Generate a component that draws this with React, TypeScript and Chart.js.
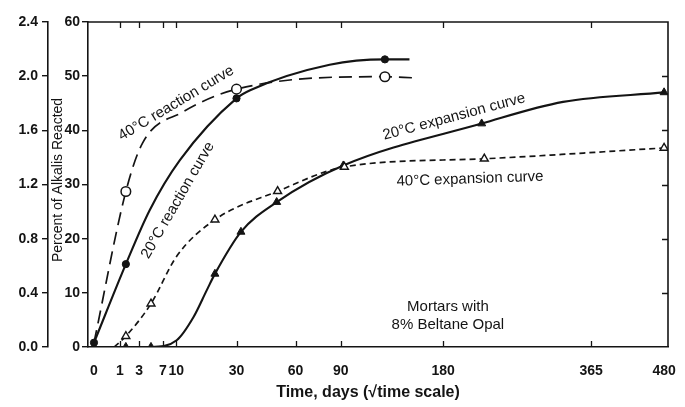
import React, { useEffect, useRef } from 'react';
import { Chart, registerables } from 'chart.js';

Chart.register(...registerables);

// ---------- data ----------
const xTickDays = [0, 1, 3, 7, 10, 30, 60, 90, 180, 365, 480];
const xTickLabels = ['0', '1', '3', '7', '10', '30', '60', '90', '180', '365', '480'];
const innerTickDays = [1, 3, 7, 10, 30, 60, 90, 180, 365];
const reactionTicks = [0, 10, 20, 30, 40, 50, 60];
const expansionTicks = [0, 0.4, 0.8, 1.2, 1.6, 2.0, 2.4];

// 40°C reaction curve (percent of alkalis reacted)
const r40Days = [0, 1.5, 3.5, 11.7, 30, 125, 150];
const r40Pct = [0.8, 28.7, 37.7, 43.4, 47.6, 49.9, 49.7];
const r40Measured = [false, true, false, false, true, true, false];

// 20°C reaction curve (percent of alkalis reacted)
const r20Days = [0, 1.5, 4.6, 10.9, 30, 36, 82, 125, 147];
const r20Pct = [0.8, 15.3, 25.3, 34.5, 45.9, 47.4, 52.1, 53.1, 53.1];
const r20Measured = [true, true, false, false, true, false, false, true, false];

// 40°C expansion curve (expansion, %)
const e40Days = [0.6, 1.5, 4.8, 10.1, 21.6, 49.8, 92.6, 225, 480];
const e40Pct = [0, 0.08, 0.32, 0.67, 0.94, 1.15, 1.33, 1.39, 1.47];
const e40Measured = [false, true, true, false, true, true, true, true, true];

// 20°C expansion curve (expansion, %)
const e20Days = [1.5, 4.8, 10.1, 14.6, 18.8, 21.6, 31.9, 49.3, 91.8, 222, 325, 480];
const e20Pct = [0, 0, 0.05, 0.22, 0.42, 0.54, 0.85, 1.07, 1.34, 1.65, 1.81, 1.88];
const e20Measured = [true, true, false, false, false, true, true, true, true, true, false, true];

const curveLabels = ['40°C reaction curve', '20°C reaction curve', '20°C expansion curve', '40°C expansion curve'];
const noteLines = ['Mortars with', '8% Beltane Opal'];
const yTitle = 'Percent of Alkalis Reacted';
const xTitle = 'Time, days (\u221Atime scale)';

// ---------- styling ----------
const FONT = '"Liberation Sans", Arial, Helvetica, sans-serif';
const INK = '#141414';

const toPts = (days: number[], vals: number[]) => days.map((d, i) => ({ x: Math.sqrt(d), y: vals[i] }));

const framePlugin = {
  id: 'frameAndNotes',
  afterDraw(chart: any) {
    const { ctx, chartArea: a, scales } = chart;
    const xs = scales.x;
    const ys = scales.y;
    ctx.save();
    ctx.strokeStyle = INK;
    ctx.lineWidth = 1.6;
    ctx.beginPath();
    ctx.moveTo(a.left, a.top);
    ctx.lineTo(a.right, a.top);
    ctx.lineTo(a.right, a.bottom);
    ctx.stroke();

    ctx.lineWidth = 1.3;
    ctx.beginPath();
    for (const d of innerTickDays) {
      const px = Math.round(xs.getPixelForValue(Math.sqrt(d))) + 0.5;
      ctx.moveTo(px, a.top);
      ctx.lineTo(px, a.top + 6);
      ctx.moveTo(px, a.bottom);
      ctx.lineTo(px, a.bottom - 6);
    }
    for (const v of reactionTicks.slice(1, -1)) {
      const py = Math.round(ys.getPixelForValue(v)) + 0.5;
      ctx.moveTo(a.right, py);
      ctx.lineTo(a.right - 6, py);
    }
    ctx.stroke();

    ctx.fillStyle = INK;
    ctx.textAlign = 'center';
    ctx.textBaseline = 'middle';

    const put = (text: string, days: number, pct: number, deg: number, font: string) => {
      const px = xs.getPixelForValue(Math.sqrt(days));
      const py = ys.getPixelForValue(pct);
      ctx.save();
      ctx.translate(px, py);
      ctx.rotate((deg * Math.PI) / 180);
      ctx.font = font;
      ctx.fillText(text, 0, 0);
      ctx.restore();
    };
    const f = `15px ${FONT}`;
    put(curveLabels[0], 10.0, 45.0, -31, f);
    put(curveLabels[1], 10.4, 27.1, -60, f);
    put(curveLabels[2], 191.5, 42.5, -15, f);
    put(curveLabels[3], 208.8, 31.0, -2, f);
    put(noteLines[0], 185, 7.4, 0, f);
    put(noteLines[1], 185, 4.0, 0, f);

    // axis titles
    ctx.save();
    ctx.translate(58, 180);
    ctx.rotate(-Math.PI / 2);
    ctx.font = `14px ${FONT}`;
    ctx.fillText(yTitle, 0, 0);
    ctx.restore();

    ctx.font = `bold 16px ${FONT}`;
    ctx.fillText(xTitle, 368, 393);
    ctx.restore();
  },
};

export default function App() {
  const ref = useRef<HTMLCanvasElement | null>(null);

  useEffect(() => {
    document.body.style.margin = '0';
    document.body.style.background = '#fff';
    const canvas = ref.current;
    if (!canvas) return;

    const mark = (m: boolean[], r: number) => m.map((v) => (v ? r : 0));
    const tickFont = { family: FONT, size: 14, weight: 'bold' };

    const chart = new Chart(canvas, {
      type: 'line',
      data: {
        datasets: [
          {
            label: curveLabels[0],
            data: toPts(r40Days, r40Pct),
            yAxisID: 'y',
            borderColor: INK,
            borderWidth: 1.7,
            borderDash: [13, 7],
            pointStyle: 'circle',
            pointRadius: mark(r40Measured, 4.8),
            pointBackgroundColor: '#fff',
            pointBorderColor: INK,
            pointBorderWidth: 1.5,
            cubicInterpolationMode: 'monotone',
          },
          {
            label: curveLabels[1],
            data: toPts(r20Days, r20Pct),
            yAxisID: 'y',
            borderColor: INK,
            borderWidth: 2.1,
            pointStyle: 'circle',
            pointRadius: mark(r20Measured, 3.6),
            pointBackgroundColor: INK,
            pointBorderColor: INK,
            pointBorderWidth: 1,
            cubicInterpolationMode: 'monotone',
          },
          {
            label: curveLabels[3],
            data: toPts(e40Days, e40Pct),
            yAxisID: 'yE',
            borderColor: INK,
            borderWidth: 1.7,
            borderDash: [6, 4],
            pointStyle: 'triangle',
            pointRadius: mark(e40Measured, 4.6),
            pointBackgroundColor: '#fff',
            pointBorderColor: INK,
            pointBorderWidth: 1.4,
            cubicInterpolationMode: 'monotone',
          },
          {
            label: curveLabels[2],
            data: toPts(e20Days, e20Pct),
            yAxisID: 'yE',
            borderColor: INK,
            borderWidth: 2.1,
            pointStyle: 'triangle',
            pointRadius: mark(e20Measured, 4.6),
            pointBackgroundColor: INK,
            pointBorderColor: INK,
            pointBorderWidth: 1,
            cubicInterpolationMode: 'monotone',
          },
        ],
      },
      options: {
        responsive: false,
        animation: false,
        events: [],
        layout: { padding: { left: 0, top: 22, right: 17, bottom: 0 } },
        plugins: { legend: { display: false }, tooltip: { enabled: false }, title: { display: false } },
        scales: {
          x: {
            type: 'linear',
            min: -0.23,
            max: 22.06,
            afterBuildTicks: (s: any) => {
              s.ticks = xTickDays.map((d) => ({ value: Math.sqrt(d) }));
            },
            afterFit: (s: any) => {
              s.height = 60;
            },
            ticks: {
              autoSkip: false,
              maxRotation: 0,
              padding: 8,
              color: INK,
              font: tickFont,
              callback: (_v: any, i: number) => xTickLabels[i],
            },
            grid: { display: false },
            border: { display: true, color: INK, width: 1.6 },
          },
          y: {
            type: 'linear',
            position: 'left',
            weight: 0,
            min: 0,
            max: 60,
            afterBuildTicks: (s: any) => {
              s.ticks = reactionTicks.map((v) => ({ value: v }));
            },
            afterFit: (s: any) => {
              s.width = 40;
            },
            ticks: {
              padding: 2,
              color: INK,
              font: tickFont,
              callback: (v: any) => String(v),
            },
            grid: { drawOnChartArea: false, drawTicks: true, tickLength: 6, color: INK, lineWidth: 1.4 },
            border: { display: true, color: INK, width: 1.6 },
          },
          yE: {
            type: 'linear',
            position: 'left',
            weight: 1,
            min: 0,
            max: 2.4,
            afterBuildTicks: (s: any) => {
              s.ticks = expansionTicks.map((v) => ({ value: v }));
            },
            afterFit: (s: any) => {
              s.width = 48;
            },
            ticks: {
              padding: 4,
              color: INK,
              font: tickFont,
              callback: (v: any) => Number(v).toFixed(1),
            },
            grid: { drawOnChartArea: false, drawTicks: true, tickLength: 6, color: INK, lineWidth: 1.4 },
            border: { display: true, color: INK, width: 1.6 },
          },
        },
      } as any,
      plugins: [framePlugin],
    });

    return () => chart.destroy();
  }, []);

  return (
    <div style={{ width: 685, height: 407, background: '#fff' }}>
      <canvas ref={ref} width={685} height={407} style={{ display: 'block', width: 685, height: 407 }} />
    </div>
  );
}
